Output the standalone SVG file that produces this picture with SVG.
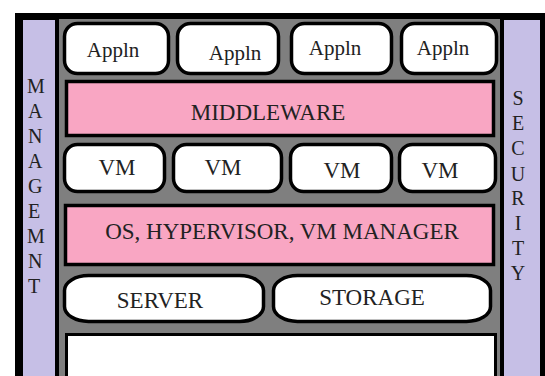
<svg xmlns="http://www.w3.org/2000/svg" width="545" height="376" viewBox="0 0 545 376">
  <style>
    .frame { fill: #000000; }
    .side { fill: #c6bfe6; }
    .bed { fill: #7f7f7f; }
    .box { fill: #ffffff; stroke: #000000; stroke-width: 3.5; }
    .band { fill: #f9a6c3; stroke: #000000; stroke-width: 3.5; }
    .base { fill: #ffffff; stroke: #000000; stroke-width: 3; }
    text { font-family: "Liberation Serif", "Times New Roman", serif; fill: #222222; }
    .lbl { font-size: 21px; text-anchor: middle; }
    .big { font-size: 23px; text-anchor: middle; }
    .col { font-size: 20px; }
  </style>

  <!-- outer frame and background -->
  <rect class="frame" x="15" y="13" width="530" height="370"/>
  <rect class="bed" x="59" y="19" width="441" height="360"/>

  <!-- management column -->
  <g id="management">
    <rect class="side" x="23" y="20" width="32" height="360"/>
    <text class="col" x="27" y="93">M</text>
    <text class="col" x="28" y="118">A</text>
    <text class="col" x="28" y="143">N</text>
    <text class="col" x="28" y="168">A</text>
    <text class="col" x="28" y="193">G</text>
    <text class="col" x="28" y="218">E</text>
    <text class="col" x="27" y="243">M</text>
    <text class="col" x="28" y="268">N</text>
    <text class="col" x="28" y="293">T</text>
  </g>

  <!-- security column -->
  <g id="security">
    <rect class="side" x="504" y="20" width="36" height="360"/>
    <g style="text-anchor: middle">
      <text class="col" x="518" y="105">S</text>
      <text class="col" x="518" y="130">E</text>
      <text class="col" x="518" y="155">C</text>
      <text class="col" x="518" y="181">U</text>
      <text class="col" x="518" y="205">R</text>
      <text class="col" x="518" y="230">I</text>
      <text class="col" x="518" y="255">T</text>
      <text class="col" x="518" y="280">Y</text>
    </g>
  </g>

  <!-- application row -->
  <g id="appln1">
    <rect class="box" x="64.5" y="23.5" width="104" height="50" rx="13"/>
    <text class="lbl" x="113" y="57">Appln</text>
  </g>
  <g id="appln2">
    <rect class="box" x="177.5" y="23.5" width="101" height="50" rx="13"/>
    <text class="lbl" x="235" y="60">Appln</text>
  </g>
  <g id="appln3">
    <rect class="box" x="291.5" y="23.5" width="100" height="50" rx="13"/>
    <text class="lbl" x="335" y="55">Appln</text>
  </g>
  <g id="appln4">
    <rect class="box" x="401.5" y="23.5" width="95" height="50" rx="13"/>
    <text class="lbl" x="443" y="55">Appln</text>
  </g>

  <!-- middleware band -->
  <g id="middleware">
    <rect class="band" x="66.5" y="81.5" width="427" height="54"/>
    <text class="big" x="268" y="120">MIDDLEWARE</text>
  </g>

  <!-- virtual machine row -->
  <g id="vm1">
    <rect class="box" x="64.5" y="144.5" width="100" height="47" rx="13"/>
    <text class="big" x="117" y="175">VM</text>
  </g>
  <g id="vm2">
    <rect class="box" x="173.5" y="144.5" width="108" height="47" rx="13"/>
    <text class="big" x="223" y="175">VM</text>
  </g>
  <g id="vm3">
    <rect class="box" x="290.5" y="144.5" width="101" height="47" rx="13"/>
    <text class="big" x="342" y="178">VM</text>
  </g>
  <g id="vm4">
    <rect class="box" x="399.5" y="144.5" width="96" height="47" rx="13"/>
    <text class="big" x="440" y="178">VM</text>
  </g>

  <!-- os / hypervisor band -->
  <g id="os">
    <rect class="band" x="65.5" y="205.5" width="428" height="59"/>
    <text class="big" x="282" y="239">OS, HYPERVISOR, VM MANAGER</text>
  </g>

  <!-- hardware row -->
  <g id="server">
    <rect class="box" x="64.5" y="275.5" width="199" height="46" rx="24" ry="15"/>
    <text class="big" x="160" y="308">SERVER</text>
  </g>
  <g id="storage">
    <rect class="box" x="273.5" y="275.5" width="217" height="46" rx="24" ry="15"/>
    <text class="big" x="372" y="305">STORAGE</text>
  </g>

  <!-- empty base layer -->
  <g id="base">
    <rect class="base" x="66.5" y="334.5" width="429" height="60"/>
  </g>
</svg>
